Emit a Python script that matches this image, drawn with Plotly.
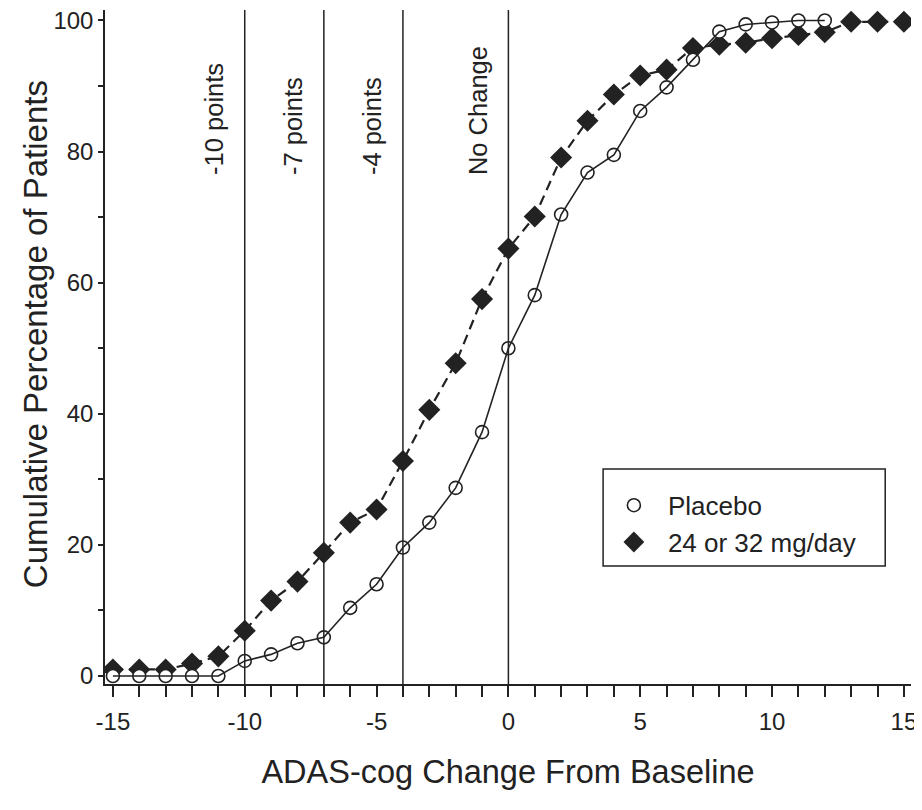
import plotly.graph_objects as go

# ---- data ----
change_placebo = [-15, -14, -13, -12, -11, -10, -9, -8, -7, -6, -5, -4, -3, -2, -1,
                  0, 1, 2, 3, 4, 5, 6, 7, 8, 9, 10, 11, 12]
placebo_pct = [0.0, 0.0, 0.0, 0.0, 0.0, 2.3, 3.3, 5.0, 5.9, 10.4, 14.0, 19.6, 23.4, 28.7, 37.2,
               50.0, 58.1, 70.4, 76.8, 79.5, 86.2, 89.8, 94.0, 98.3, 99.4, 99.7, 100.0, 100.0]

change_drug = [-15, -14, -13, -12, -11, -10, -9, -8, -7, -6, -5, -4, -3, -2, -1,
               0, 1, 2, 3, 4, 5, 6, 7, 8, 9, 10, 11, 12, 13, 14, 15]
drug_pct = [1.0, 1.0, 1.0, 1.9, 3.0, 6.9, 11.5, 14.4, 18.8, 23.4, 25.4, 32.8, 40.6, 47.7, 57.5,
            65.2, 70.1, 79.1, 84.7, 88.7, 91.6, 92.5, 95.8, 96.3, 96.6, 97.3, 97.8, 98.2, 99.8, 99.8, 99.8]

series_names = ["Placebo", "24 or 32 mg/day"]

ref_x = [-10, -7, -4, 0]
ref_labels = ["-10 points", "-7 points", "-4 points", "No Change"]

x_tickvals = [-15, -10, -5, 0, 5, 10, 15]
x_ticktext = ["-15", "-10", "-5", "0", "5", "10", "15"]
y_tickvals = [0, 20, 40, 60, 80, 100]

x_title = "ADAS-cog Change From Baseline"
y_title = "Cumulative Percentage of Patients"

FONT = "Liberation Sans, Arial, sans-serif"
INK = "#222222"

fig = go.Figure()

# drug: dashed line, filled diamonds
fig.add_trace(go.Scatter(
    x=change_drug, y=drug_pct, mode="lines", showlegend=False, hoverinfo="skip",
    line=dict(color=INK, width=2.2, dash="10px,6px"),
))
fig.add_trace(go.Scatter(
    x=change_drug, y=drug_pct, name=series_names[1], mode="markers", legendrank=2,
    marker=dict(symbol="diamond", size=17, color=INK),
))
# placebo: open circles (white filled) with a solid line drawn through them
fig.add_trace(go.Scatter(
    x=change_placebo, y=placebo_pct, name=series_names[0], mode="markers", legendrank=1,
    marker=dict(symbol="circle", size=13, color="white", line=dict(width=1.6, color=INK)),
))
fig.add_trace(go.Scatter(
    x=change_placebo, y=placebo_pct, mode="lines", showlegend=False, hoverinfo="skip",
    line=dict(color=INK, width=1.6),
))

for xv, lab in zip(ref_x, ref_labels):
    fig.add_shape(type="line", xref="x", yref="paper", x0=xv, x1=xv, y0=0, y1=1,
                  line=dict(color=INK, width=1.5), layer="above")
    fig.add_annotation(x=xv, y=76.1, xref="x", yref="y", text=lab, showarrow=False,
                       textangle=-90, xanchor="center", yanchor="bottom", xshift=-31,
                       font=dict(family=FONT, size=25.5, color=INK))

# y-axis title
fig.add_annotation(x=0, y=0.519, xref="paper", yref="paper", text=y_title, showarrow=False,
                   textangle=-90, xanchor="center", yanchor="middle", xshift=-70,
                   font=dict(family=FONT, size=33, color=INK))

# legend frame
fig.add_shape(type="rect", xref="paper", yref="paper", x0=0.618, x1=0.968, y0=0.175, y1=0.319,
              line=dict(color=INK, width=1.5), fillcolor="white", layer="above")

fig.update_layout(
    width=914, height=794,
    margin=dict(l=97, r=11, t=2, b=118),
    paper_bgcolor="white", plot_bgcolor="white",
    font=dict(family=FONT, color=INK, size=24),
    showlegend=True,
    legend=dict(x=0.614, y=0.300, xanchor="left", yanchor="top",
                borderwidth=0, bgcolor="rgba(0,0,0,0)", itemwidth=58,
                font=dict(family=FONT, size=26, color=INK)),
    xaxis=dict(range=[-15.3, 15.27], tickvals=x_tickvals, ticktext=x_ticktext,
               ticks="outside", ticklen=11, automargin=False, ticklabeloverflow="allow",
               tickwidth=1.5, tickcolor=INK, showline=True, linecolor=INK, linewidth=1.5,
               showgrid=False, zeroline=False, ticklabelstandoff=4,
               tickfont=dict(size=24),
               minor=dict(dtick=1, ticks="outside", ticklen=11, tickwidth=1.5, tickcolor=INK),
               title=dict(text=x_title, font=dict(size=32.5), standoff=27)),
    yaxis=dict(range=[-1.22, 101.6], tickvals=y_tickvals, ticks="outside", ticklen=5,
               automargin=False, ticklabeloverflow="allow",
               tickwidth=1.5, tickcolor=INK, showline=True, linecolor=INK, linewidth=1.5,
               showgrid=False, zeroline=False, tickfont=dict(size=24),
               minor=dict(dtick=10, ticks="outside", ticklen=5, tickwidth=1.5, tickcolor=INK)),
    yaxis2=dict(overlaying="y", matches="y", side="left", ticks="inside", ticklen=5, dtick=10,
                tickwidth=1.5, tickcolor=INK, showticklabels=False, showgrid=False,
                zeroline=False, showline=False, automargin=False),
)

fig.write_html("out.html")
